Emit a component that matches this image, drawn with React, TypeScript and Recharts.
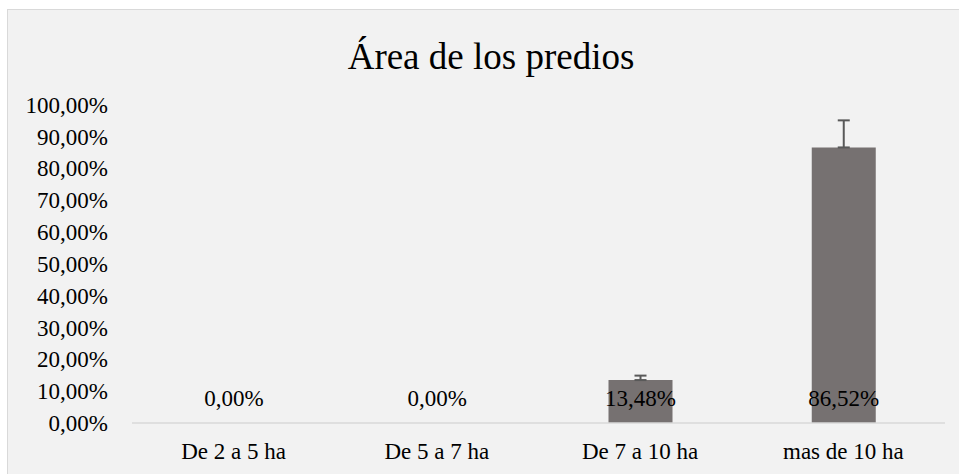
import { Bar, BarChart, ErrorBar, LabelList, Rectangle, XAxis, YAxis } from 'recharts'

const categories = ['De 2 a 5 ha', 'De 5 a 7 ha', 'De 7 a 10 ha', 'mas de 10 ha']
const shares = [0, 0, 13.48, 86.52]
const errorsUp = [0, 0, 1.4, 8.5]
const yTicks = [0, 10, 20, 30, 40, 50, 60, 70, 80, 90, 100]

const data = categories.map((name, i) => ({
  name,
  value: shares[i],
  err: shares[i] > 0 ? [0, errorsUp[i]] : undefined,
}))

const fmt = (v: number) => `${Number(v).toFixed(2).replace('.', ',')}%`
const serif = '"Liberation Serif", "Times New Roman", serif'

// zero bars still need a slot so their label shows, but nothing is painted
const BarShape = (props: any) => {
  if (!props.payload || props.payload.value === 0) return <g />
  return <Rectangle {...props} />
}

export default function App() {
  return (
    <div style={{ position: 'absolute', left: 0, top: 0, width: 959, height: 474, overflow: 'hidden', background: '#fff' }}>
      <div
        style={{
          position: 'absolute',
          left: 7,
          top: 9,
          width: 990,
          height: 500,
          border: '1px solid #d9d9d9',
          background: '#f2f2f2',
          fontFamily: serif,
        }}
      >
        <div
          style={{
            position: 'absolute',
            left: 0,
            width: 966,
            top: 28,
            textAlign: 'center',
            fontSize: 37,
            lineHeight: '37px',
            color: '#000',
          }}
        >
          Área de los predios
        </div>
        <BarChart
          width={980}
          height={470}
          data={data}
          barSize={64}
          margin={{ top: 94.5, right: 43, bottom: 17, left: 14 }}
          style={{ fontFamily: serif }}
        >
          <XAxis
            dataKey="name"
            axisLine={{ stroke: '#d9d9d9', strokeWidth: 1.5 }}
            tickLine={false}
            tickMargin={14}
            height={40}
            tick={{ fontSize: 23, fill: '#000', fontFamily: serif }}
          />
          <YAxis
            domain={[0, 100]}
            ticks={yTicks}
            interval={0}
            width={110}
            axisLine={false}
            tickLine={false}
            tickMargin={18}
            tickFormatter={fmt}
            tick={{ fontSize: 23, fill: '#000', fontFamily: serif }}
          />
          <Bar dataKey="value" fill="#767171" minPointSize={1} shape={BarShape} isAnimationActive={false}>
            <ErrorBar dataKey="err" width={6} stroke="#595959" strokeWidth={2} direction="y" />
            <LabelList
              dataKey="value"
              position="insideBottom"
              offset={17}
              formatter={fmt}
              style={{ fontSize: 23, fill: '#000', fontFamily: serif }}
            />
          </Bar>
        </BarChart>
      </div>
    </div>
  )
}
